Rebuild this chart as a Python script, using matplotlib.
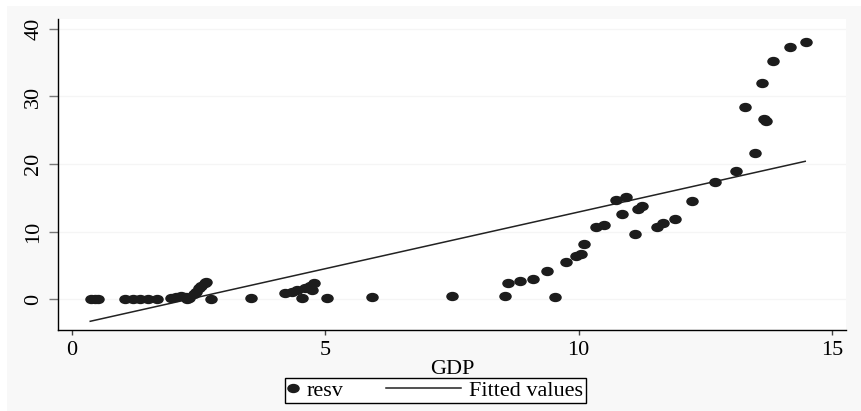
import matplotlib
matplotlib.use("Agg")
import matplotlib.pyplot as plt
from matplotlib.path import Path
from matplotlib.patches import Rectangle
from matplotlib.legend_handler import HandlerLine2D
import numpy as np

# data (GDP vs resv)
gdp = [0.38, 0.45, 0.52,
       1.05, 1.2, 1.35, 1.5, 1.68,
       1.95, 2.05, 2.15, 2.25, 2.27, 2.3, 2.4, 2.45, 2.5, 2.55, 2.62, 2.65,
       2.75, 3.53,
       4.2, 4.35, 4.45, 4.53, 4.6, 4.7, 4.73, 4.78, 5.04,
       5.92, 7.5, 8.55, 8.61, 8.84, 9.1, 9.37, 9.54, 9.74, 9.94, 10.04,
       10.1, 10.34, 10.5, 10.73, 10.85, 10.94, 11.11, 11.18, 11.24,
       11.55, 11.67, 11.9, 12.23, 12.69, 13.1, 13.28, 13.47, 13.62,
       13.66, 13.7, 13.83, 14.16, 14.49]
resv = [0.0, 0.0, 0.05,
        0.0, 0.0, 0.0, 0.0, 0.0,
        0.1, 0.3, 0.4, 0.3, 0.0, 0.1, 0.8, 1.1, 1.6, 2.0, 2.4, 2.5,
        0.0, 0.1,
        0.9, 1.0, 1.3, 0.2, 1.6, 2.0, 1.3, 2.3, 0.2,
        0.3, 0.4, 0.4, 2.3, 2.7, 2.9, 4.2, 0.3, 5.5, 6.4, 6.7,
        8.1, 10.7, 11.0, 14.7, 12.6, 15.1, 9.7, 13.3, 13.8,
        10.7, 11.2, 11.8, 14.5, 17.4, 18.9, 28.5, 21.6, 32.0,
        26.7, 26.3, 35.3, 37.4, 38.1]

# fitted line endpoints
fit_x = [0.36, 14.47]
fit_y = [-3.3, 20.4]

xticks = [0, 5, 10, 15]
yticks = [0, 10, 20, 30, 40]

plt.rcParams["font.family"] = ["Liberation Serif", "DejaVu Serif"]

W, H = 862, 411
fig = plt.figure(figsize=(W / 100, H / 100), dpi=100, facecolor="white")
# light grey graph region (stata style)
fig.patches.append(Rectangle((7 / W, 0), 1 - 7 / W, 1 - 6 / H,
                             transform=fig.transFigure, facecolor="#f8f8f8",
                             edgecolor="none", zorder=-10))

ax = fig.add_axes([58 / W, 1 - 330 / H, (846 - 58) / W, (330 - 19) / H])
ax.set_facecolor("white")

# ellipse marker
circ = Path.unit_circle()
ell = Path(circ.vertices * np.array([1.4, 1.0]), circ.codes)

ax.plot(gdp, resv, linestyle="none", marker=ell, ms=8, color="#1c1c1c",
        mec="#1c1c1c", label="resv", zorder=3)
ax.plot(fit_x, fit_y, color="#222222", lw=1.1, label="Fitted values", zorder=2)

ax.set_xlim(-0.276, 15.275)
ax.set_ylim(-4.59, 41.48)
ax.set_xticks(xticks)
ax.set_yticks(yticks)
ax.grid(axis="y", color="#f5f5f5", lw=1)
ax.set_axisbelow(True)

for s in ["top", "right"]:
    ax.spines[s].set_visible(False)
for s in ["left", "bottom"]:
    ax.spines[s].set_color("black")
    ax.spines[s].set_linewidth(1.0)

ax.tick_params(axis="x", length=3.6, width=1, color="#444444", pad=4,
               labelsize=16)
ax.tick_params(axis="y", length=6.5, width=1, color="#777777", pad=4,
               labelsize=16)
for lab in ax.get_yticklabels():
    lab.set_rotation(90)
    lab.set_va("center")

ax.set_xlabel("GDP", fontsize=16, labelpad=0)


class LongLine(HandlerLine2D):
    # draw the legend line longer than its handle box, like stata does
    def get_xdata(self, legend, xdescent, ydescent, width, height, fontsize):
        return ([-xdescent - 2.9 * fontsize, -xdescent + width],
                [-xdescent + 0.5 * width])


h, l = ax.get_legend_handles_labels()
leg = fig.legend(h, l, loc="center", ncol=2,
                 bbox_to_anchor=(435.5 / W, 1 - 390.5 / H),
                 fontsize=16, frameon=True, fancybox=False,
                 edgecolor="black", facecolor="white", framealpha=1,
                 handlelength=0.5, handletextpad=0.35, columnspacing=4.8,
                 borderpad=0.12, numpoints=1,
                 handler_map={h[1]: LongLine()})
leg.get_frame().set_linewidth(1.0)

fig.savefig("out.png", dpi=100, facecolor=fig.get_facecolor())
